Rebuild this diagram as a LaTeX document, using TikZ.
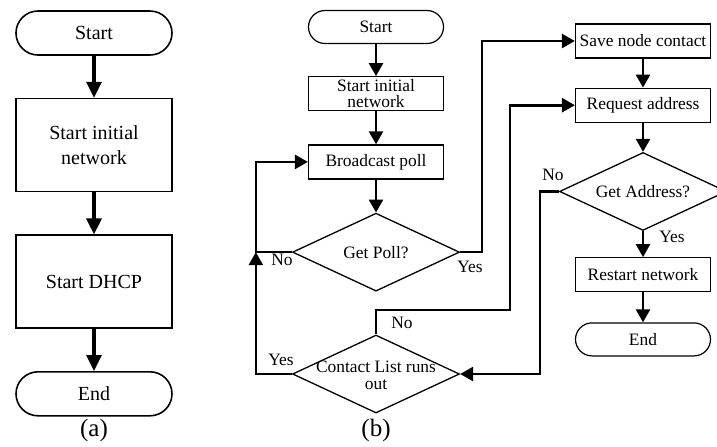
\documentclass[tikz,border=0pt]{standalone}
\usepackage{fontspec}
\setmainfont{Liberation Serif}
\usetikzlibrary{positioning, shapes.geometric, arrows.meta}

\tikzset{
  abox/.style={draw, line width=0.8pt, minimum width=78pt, minimum height=46.5pt,
    inner sep=0pt, align=center, font=\fontsize{10}{12.5}\selectfont},
  aterm/.style={abox, minimum height=22pt, rounded corners=11pt},
  bbox/.style={draw, line width=0.6pt, minimum width=67.5pt, minimum height=17pt,
    inner sep=0pt, align=center, font=\fontsize{8.7}{8.3}\selectfont},
  bterm/.style={bbox, minimum height=16.5pt, rounded corners=8.25pt},
  dec/.style={draw, diamond, line width=0.65pt, minimum width=83.5pt, minimum height=39pt,
    inner sep=0pt},
  dectext/.style={align=center, inner sep=0pt, font=\fontsize{8.7}{8.5}\selectfont},
  lbl/.style={font=\fontsize{8.7}{10}\selectfont, inner sep=0pt},
  aflow/.style={line width=1.6pt, -{Triangle[length=8pt,width=7.5pt]}},
  bflow/.style={line width=1.3pt, -{Triangle[length=6.5pt,width=7pt]}}
}

\begin{document}
\begin{tikzpicture}[x=0.5pt, y=-0.5pt]
  \useasboundingbox (0,0) rectangle (717,446);

  % (a)
  \node[aterm] (aStart) at (94,33) {Start};
  \node[abox, below=21pt of aStart] (aInit) {Start initial\\network};
  \node[abox, below=21pt of aInit] (aDhcp) {Start DHCP};
  \node[aterm, below=21pt of aDhcp] (aEnd) {End};
  \draw[aflow] (aStart) edge (aInit) (aInit) edge (aDhcp) (aDhcp) edge (aEnd);
  \node[font=\fontsize{12.5}{14}\selectfont] (aCap) at (94,430) {(a)};

  % (b) left column
  \node[bterm] (bStart) at (376,27) {Start};
  \node[bbox, below=16pt of bStart] (bInit) {Start initial\\network};
  \node[bbox, below=16.5pt of bInit] (bBcast) {Broadcast poll};
  \node[dec, below=16.5pt of bBcast] (bPoll) {};
  \node[dectext] (bPollText) at (bPoll) {Get Poll?};
  \node[dec] (bList) at (376,374) {};
  \node[dectext] (bListText) at ([yshift=-0.5pt]bList) {Contact List runs\\out};
  \draw[bflow] (bStart) edge (bInit) (bInit) edge (bBcast) (bBcast) edge (bPoll);

  % (b) right column
  \node[bbox] (bSave) at (643,41) {Save node contact};
  \node[bbox, below=14.5pt of bSave] (bReq) {Request address};
  \node[dec, below=14.5pt of bReq] (bAddr) {};
  \node[dectext] (bAddrText) at (bAddr) {Get Address?};
  \node[bbox, below=13pt of bAddr] (bRestart) {Restart network};
  \node[bterm, below=15pt of bRestart] (bEnd) {End};
  \draw[bflow] (bSave) edge (bReq) (bReq) edge (bAddr) (bAddr) edge (bRestart) (bRestart) edge (bEnd);

  % loops
  \coordinate (bJoin) at ([xshift=-18pt]bPoll.west);
  \coordinate (bRise) at (510,310);
  \draw[bflow] (bPoll.west) -- (bJoin) |- (bBcast.west);
  \draw[bflow] (bList.west) -| (bJoin);
  \draw[bflow] (bPoll.east) -- ++(22,0) |- (bSave.west);
  \draw[bflow] (bList.north) |- (bRise) |- (bReq.west);
  \draw[bflow] (bAddr.west) -- ++(-19,0) |- (bList.east);

  \node[lbl] (noPoll) at (282,260) {No};
  \node[lbl] (yesList) at (281,360) {Yes};
  \node[lbl] (yesPoll) at (470,267) {Yes};
  \node[lbl] (noList) at (402,323) {No};
  \node[lbl] (noAddr) at (553,175) {No};
  \node[lbl] (yesAddr) at (672,237) {Yes};
  \node[font=\fontsize{12.5}{14}\selectfont] (bCap) at (376,430) {(b)};
\end{tikzpicture}
\end{document}
